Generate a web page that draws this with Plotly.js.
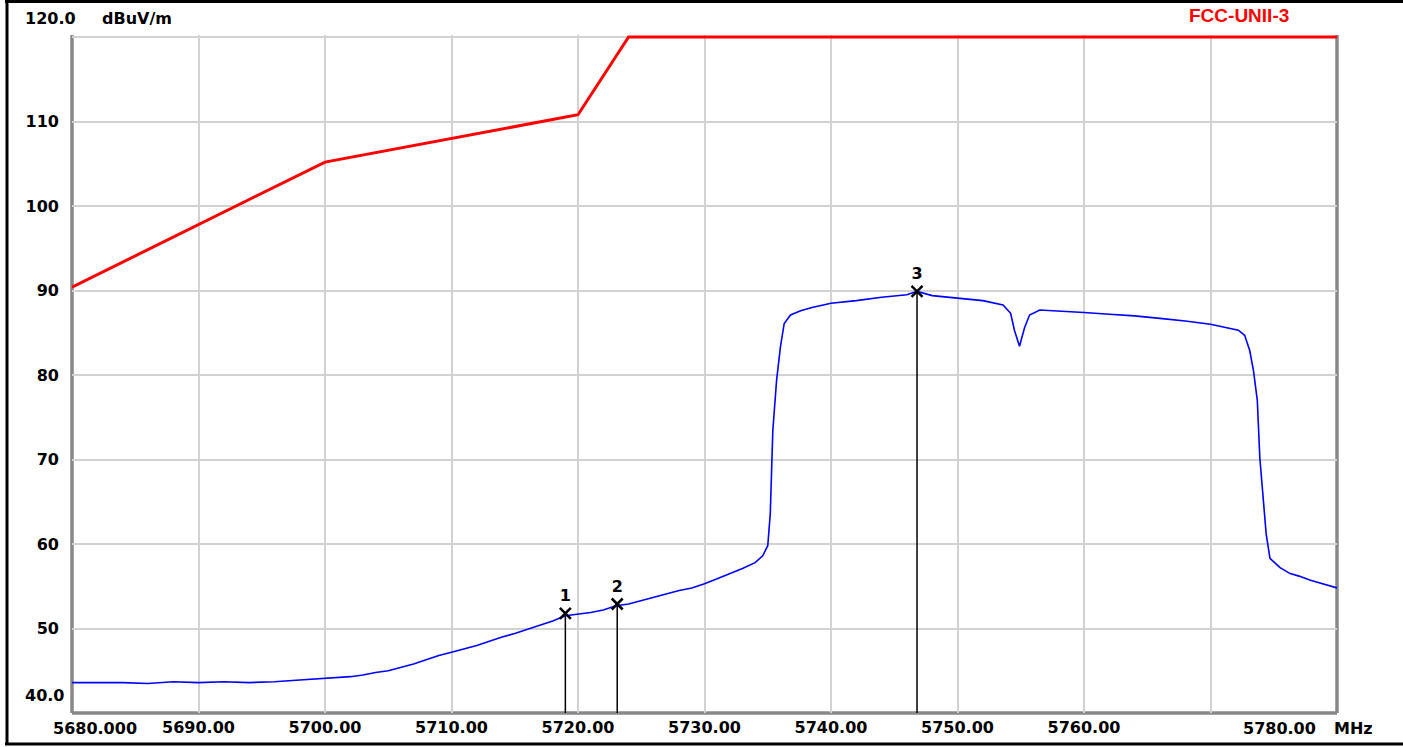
<!DOCTYPE html>
<html>
<head>
<meta charset="utf-8">
<script src="https://cdn.plot.ly/plotly-3.0.1.min.js"></script>
<style>html,body{margin:0;padding:0;background:#fff;}#chart{width:1403px;height:747px;}</style>
</head>
<body>
<div id="chart"></div>
<script>
// Limit line FCC-UNII-3 (dBuV/m)
const limitFreq = [5680, 5700, 5720, 5724, 5780];
const limitLevel = [90.4, 105.2, 110.8, 120, 120];

// Measured trace (MHz, dBuV/m)
const traceFreq = [5680,5682,5684,5686,5688,5690,5692,5694,5696,5698,5700,5701,5702,5703,5704,5705,5706,5707,5708,5709,5710,5711,5712,5713,5714,5715,5716,5717,5718,5719,5720,5721,5722,5723,5724,5725,5726,5727,5728,5729,5730,5731,5732,5733,5734,5734.6,5735.0,5735.2,5735.4,5735.7,5736.0,5736.3,5736.8,5737.6,5738.5,5740,5742,5744,5746,5746.8,5748,5750,5752,5753.6,5754.2,5754.5,5754.9,5755.3,5755.7,5756.5,5758,5760,5762,5764,5766,5768,5770,5771,5772.2,5772.7,5773.1,5773.4,5773.7,5773.9,5774.2,5774.4,5774.7,5775.5,5776.3,5777,5777.9,5779,5780];
const traceLevel = [43.6,43.6,43.6,43.5,43.7,43.6,43.7,43.6,43.7,43.9,44.1,44.2,44.3,44.5,44.8,45.0,45.4,45.8,46.3,46.8,47.2,47.6,48.0,48.5,49.0,49.4,49.9,50.4,50.9,51.5,51.7,51.9,52.2,52.7,52.9,53.3,53.7,54.1,54.5,54.8,55.3,55.9,56.5,57.1,57.8,58.6,59.8,63.6,73.4,79.4,83.3,86.1,87.1,87.6,88.0,88.5,88.8,89.2,89.5,89.9,89.4,89.1,88.8,88.3,87.3,85.3,83.4,85.6,87.1,87.7,87.6,87.4,87.2,87.0,86.7,86.4,86.0,85.7,85.3,84.7,82.9,80.5,77.0,70.2,65.1,61.2,58.3,57.2,56.5,56.2,55.7,55.2,54.8];

// Markers
const markerFreq = [5719.0, 5723.1, 5746.8];
const markerLevel = [51.8, 52.9, 89.9];
const markerLabels = ["1", "2", "3"];

// Axis ticks
const xTickVals = [5690, 5700, 5710, 5720, 5730, 5740, 5750, 5760, 5770];
const xTickText = ["5690.00", "5700.00", "5710.00", "5720.00", "5730.00", "5740.00", "5750.00", "5760.00", ""];
const yTickVals = [50, 60, 70, 80, 90, 100, 110];
const yTickText = ["50", "60", "70", "80", "90", "100", "110"];
const yBottomLabel = "40.0";
const yTopLabel = "120.0";
const yUnit = "dBuV/m";
const xFirstLabel = "5680.000";
const xLastLabel = "5780.00";
const xUnit = "MHz";
const limitName = "FCC-UNII-3";

const yMin = 40;
const stemX = [], stemY = [];
markerFreq.forEach((f, i) => { stemX.push(f, f, null); stemY.push(markerLevel[i], yMin, null); });

const lblFont = {family: "DejaVu Sans", size: 16, color: "#000", weight: 700};

const traces = [
  {x: stemX, y: stemY, mode: "lines", line: {color: "#000", width: 1.5}, hoverinfo: "skip"},
  {x: traceFreq, y: traceLevel, mode: "lines", line: {color: "#0000ff", width: 1.6}},
  {x: limitFreq, y: limitLevel, mode: "lines", line: {color: "#ff0000", width: 3}},
  {x: markerFreq, y: markerLevel, mode: "markers+text", text: markerLabels, textposition: "top center",
   textfont: {family: "DejaVu Sans", size: 16, color: "#000", weight: 700},
   marker: {symbol: "x-thin-open", size: 11, color: "#000", line: {color: "#000", width: 2.5}}, cliponaxis: false}
];

const L = 72, R = 1337, T = 35, B = 713;
const px = v => (v - L) / (R - L);
const py = v => (B - v) / (B - T);

const layout = {
  width: 1403, height: 747,
  margin: {l: L, r: 1403 - R, t: T, b: 747 - B, pad: 0},
  paper_bgcolor: "#fff", plot_bgcolor: "#fff",
  showlegend: false,
  xaxis: {range: [5680, 5780], tickvals: xTickVals, ticktext: xTickText, showgrid: true,
          gridcolor: "#d2d2d2", gridwidth: 2, zeroline: false, showline: false, ticks: "",
          tickfont: lblFont, ticklabelstandoff: 3},
  yaxis: {range: [40, 120.24], tickvals: yTickVals.concat([120]), ticktext: yTickText.concat([""]), showgrid: true,
          gridcolor: "#d2d2d2", gridwidth: 2, zeroline: false, showline: false, ticks: "",
          tickfont: lblFont, ticklabelstandoff: 12},
  shapes: [
    {type: "line", xref: "paper", yref: "paper", x0: 0, x1: 0, y0: 0, y1: 1, line: {color: "#888", width: 3.5}, layer: "below"},
    {type: "line", xref: "paper", yref: "paper", x0: 0, x1: 1, y0: 0, y1: 0, line: {color: "#888", width: 3.5}, layer: "below"},
    {type: "line", xref: "paper", yref: "paper", x0: 1, x1: 1, y0: 0, y1: 1, line: {color: "#888", width: 3.5}, layer: "below"},
    {type: "line", xref: "paper", yref: "paper", x0: px(7), x1: px(7), y0: py(1), y1: py(745), line: {color: "#000", width: 3}},
    {type: "line", xref: "paper", yref: "paper", x0: px(5), x1: px(1410), y0: py(1.5), y1: py(1.5), line: {color: "#000", width: 3}},
    {type: "line", xref: "paper", yref: "paper", x0: px(5), x1: px(1410), y0: py(744), y1: py(744), line: {color: "#000", width: 3}}
  ],
  annotations: [
    {text: yTopLabel, xref: "paper", yref: "paper", x: px(23), y: py(19), xanchor: "left", yanchor: "middle", showarrow: false, font: lblFont},
    {text: yUnit, xref: "paper", yref: "paper", x: px(100), y: py(19), xanchor: "left", yanchor: "middle", showarrow: false, font: lblFont},
    {text: yBottomLabel, xref: "paper", yref: "paper", x: px(23), y: py(695), xanchor: "left", yanchor: "middle", showarrow: false, font: lblFont},
    {text: xFirstLabel, xref: "paper", yref: "paper", x: px(51), y: py(728), xanchor: "left", yanchor: "middle", showarrow: false, font: lblFont},
    {text: xLastLabel, xref: "paper", yref: "paper", x: px(1241), y: py(728), xanchor: "left", yanchor: "middle", showarrow: false, font: lblFont},
    {text: xUnit, xref: "paper", yref: "paper", x: px(1332), y: py(728), xanchor: "left", yanchor: "middle", showarrow: false, font: lblFont},
    {text: limitName, xref: "paper", yref: "paper", x: px(1239), y: py(15), xanchor: "center", yanchor: "middle", showarrow: false,
     font: {family: "Liberation Sans", size: 19, color: "#ff0000", weight: 700}}
  ]
};

Plotly.newPlot("chart", traces, layout, {displayModeBar: false, staticPlot: true});
</script>
</body>
</html>
